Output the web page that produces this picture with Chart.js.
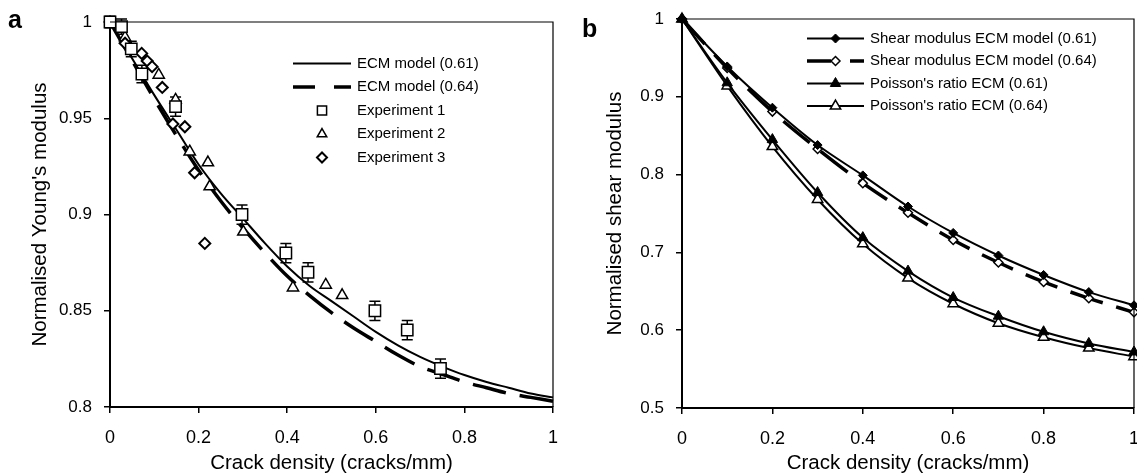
<!DOCTYPE html>
<html>
<head>
<meta charset="utf-8">
<script src="https://cdn.jsdelivr.net/npm/chart.js@4.4.1/dist/chart.umd.min.js"></script>
<style>
  body { margin: 0; background: #fff; width: 1137px; height: 476px; position: relative; overflow: hidden; }
  canvas { position: absolute; top: 0; }
  #chart-a { left: 0; }
  #chart-b { left: 570px; }
</style>
</head>
<body>
<canvas id="chart-a" width="570" height="476"></canvas>
<canvas id="chart-b" width="567" height="476"></canvas>
<script>
// ---- Données panneau a (module d'Young normalisé) ----
const modelDensity = [0, 0.05, 0.1, 0.15, 0.2, 0.25, 0.3, 0.35, 0.4, 0.45, 0.5,
                      0.55, 0.6, 0.65, 0.7, 0.75, 0.8, 0.85, 0.9, 0.95, 1];
const ecmModel061 = [1, 0.981, 0.962, 0.944, 0.926, 0.911, 0.898, 0.885, 0.873, 0.863, 0.855,
                     0.847, 0.839, 0.832, 0.826, 0.821, 0.8166, 0.813, 0.81, 0.807, 0.805];
const ecmModel064 = [1, 0.980, 0.960, 0.941, 0.923, 0.907, 0.893, 0.880, 0.868, 0.858, 0.849,
                     0.841, 0.834, 0.827, 0.821, 0.817, 0.813, 0.810, 0.807, 0.805, 0.803];

const exp1Density = [0, 0.026, 0.048, 0.072, 0.148, 0.298, 0.397, 0.447, 0.598, 0.671, 0.746];
const exp1Modulus = [1.0, 0.9976, 0.986, 0.973, 0.956, 0.900, 0.880, 0.870, 0.850, 0.840, 0.820];
const exp1Error   = [0.003, 0.004, 0.004, 0.0045, 0.005, 0.005, 0.005, 0.005, 0.005, 0.005, 0.005];

const exp2Density = [0.034, 0.11, 0.148, 0.18, 0.221, 0.225, 0.301, 0.413, 0.487, 0.524];
const exp2Modulus = [0.992, 0.9725, 0.9595, 0.9326, 0.927, 0.9145, 0.891, 0.862, 0.8634, 0.858];

const exp3Density = [0, 0.034, 0.0715, 0.084, 0.095, 0.118, 0.142, 0.169, 0.191, 0.214];
const exp3Modulus = [1.0, 0.989, 0.9837, 0.9797, 0.9768, 0.966, 0.947, 0.9456, 0.9217, 0.885];

// ---- Données panneau b (module de cisaillement) ----
const densityB   = [0, 0.1, 0.2, 0.3, 0.4, 0.5, 0.6, 0.7, 0.8, 0.9, 1];
const shear061   = [1.0, 0.939, 0.886, 0.838, 0.799, 0.759, 0.725, 0.696, 0.671, 0.649, 0.632];
const shear064   = [1.0, 0.937, 0.881, 0.833, 0.789, 0.751, 0.716, 0.687, 0.662, 0.641, 0.623];
const poisson061 = [1.0, 0.918, 0.845, 0.777, 0.719, 0.676, 0.642, 0.618, 0.598, 0.583, 0.572];
const poisson064 = [1.0, 0.914, 0.836, 0.768, 0.711, 0.667, 0.634, 0.609, 0.591, 0.577, 0.566];

// ---- Graduations ----
const xTicks = [0, 0.2, 0.4, 0.6, 0.8, 1];
const xTickLabels = ['0', '0.2', '0.4', '0.6', '0.8', '1'];
const yTicksA = [0.8, 0.85, 0.9, 0.95, 1];
const yTickLabelsA = ['0.8', '0.85', '0.9', '0.95', '1'];
const yTicksB = [0.5, 0.6, 0.7, 0.8, 0.9, 1];
const yTickLabelsB = ['0.5', '0.6', '0.7', '0.8', '0.9', '1'];

const FONT = '"Liberation Sans", Arial, sans-serif';
const font = size => ({ family: FONT, size: size });
const pts = (xs, ys) => xs.map((x, i) => ({ x: x, y: ys[i] }));

function drawMarker(ctx, style, x, y, r, fill, lw) {
    ctx.beginPath();
    if (style === 'rect') {
        const s = r * Math.SQRT1_2;
        ctx.rect(x - s, y - s, 2 * s, 2 * s);
    } else if (style === 'triangle') {
        const a = 2 * Math.PI / 3;
        ctx.moveTo(x, y - r);
        ctx.lineTo(x + r * Math.sin(a), y - r * Math.cos(a));
        ctx.lineTo(x - r * Math.sin(a), y - r * Math.cos(a));
        ctx.closePath();
    } else {
        ctx.moveTo(x - r, y);
        ctx.lineTo(x, y - r);
        ctx.lineTo(x + r, y);
        ctx.lineTo(x, y + r);
        ctx.closePath();
    }
    ctx.fillStyle = fill;
    ctx.fill();
    ctx.lineWidth = lw;
    ctx.strokeStyle = '#000';
    ctx.stroke();
}

// Légende dessinée dans la zone du graphique
const insideLegend = {
    id: 'insideLegend',
    afterDraw(chart, args, opts) {
        const ctx = chart.ctx;
        ctx.save();
        chart.data.datasets.forEach((ds, i) => {
            const y = opts.top + i * opts.rowGap;
            if (ds.showLine) {
                ctx.beginPath();
                ctx.setLineDash(ds.legendDash || []);
                ctx.lineWidth = ds.borderWidth;
                ctx.strokeStyle = '#000';
                ctx.moveTo(opts.x0, y);
                ctx.lineTo(opts.x1, y);
                ctx.stroke();
                ctx.setLineDash([]);
            }
            if (ds.legendRadius) {
                drawMarker(ctx, ds.pointStyle, (opts.x0 + opts.x1) / 2, y, ds.legendRadius,
                           ds.pointBackgroundColor, ds.pointBorderWidth);
            }
            ctx.fillStyle = '#000';
            ctx.font = '15px ' + FONT;
            ctx.textBaseline = 'middle';
            ctx.textAlign = 'left';
            ctx.fillText(ds.label, opts.textX, y);
        });
        ctx.restore();
    }
};

// Cadre haut/droite + lettre du panneau
const frame = {
    id: 'frame',
    afterDraw(chart, args, opts) {
        const { ctx, chartArea: a } = chart;
        ctx.save();
        ctx.strokeStyle = '#000';
        ctx.lineWidth = 1.2;
        ctx.beginPath();
        ctx.moveTo(a.left, a.top);
        ctx.lineTo(a.right, a.top);
        ctx.lineTo(a.right, a.bottom);
        ctx.stroke();
        ctx.fillStyle = '#000';
        ctx.font = 'bold 25px ' + FONT;
        ctx.textBaseline = 'alphabetic';
        ctx.fillText(opts.letter, opts.lx, opts.ly);
        ctx.restore();
    }
};

// Barres d'erreur de l'expérience 1
const errorBars = {
    id: 'errorBars',
    beforeDatasetsDraw(chart) {
        const ctx = chart.ctx, xs = chart.scales.x, ys = chart.scales.y;
        ctx.save();
        ctx.strokeStyle = '#000';
        ctx.lineWidth = 1.5;
        exp1Density.forEach((d, i) => {
            const px = xs.getPixelForValue(d);
            const top = ys.getPixelForValue(exp1Modulus[i] + exp1Error[i]);
            const bot = ys.getPixelForValue(exp1Modulus[i] - exp1Error[i]);
            ctx.beginPath();
            ctx.moveTo(px, top); ctx.lineTo(px, bot);
            ctx.moveTo(px - 5.5, top); ctx.lineTo(px + 5.5, top);
            ctx.moveTo(px - 5.5, bot); ctx.lineTo(px + 5.5, bot);
            ctx.stroke();
        });
        ctx.restore();
    }
};

function makeScales(yTicks, yLabels, yTitle, yWidth, yTitlePad, xHeight) {
    return {
        x: {
            type: 'linear', min: 0, max: 1,
            afterBuildTicks: s => { s.ticks = xTicks.map(v => ({ value: v })); },
            afterFit: s => { s.height = xHeight; s.paddingLeft = 0; s.paddingRight = 0; },
            ticks: { callback: (v, i) => xTickLabels[i], color: '#000', font: font(18), padding: 14, maxRotation: 0, autoSkip: false },
            grid: { drawOnChartArea: false, drawTicks: true, tickLength: 6, color: '#000', lineWidth: 1.5 },
            border: { color: '#000', width: 2 },
            title: { display: true, text: 'Crack density (cracks/mm)', color: '#000', font: font(20.5), padding: { top: 0, bottom: 0 } }
        },
        y: {
            type: 'linear', min: yTicks[0], max: yTicks[yTicks.length - 1],
            afterBuildTicks: s => { s.ticks = yTicks.map(v => ({ value: v })); },
            afterFit: s => { s.width = yWidth; s.paddingTop = 0; s.paddingBottom = 0; },
            ticks: { callback: (v, i) => yLabels[i], color: '#000', font: font(17), padding: 12, autoSkip: false },
            grid: { drawOnChartArea: false, drawTicks: true, tickLength: 6, color: '#000', lineWidth: 1.5 },
            border: { color: '#000', width: 2 },
            title: { display: true, text: yTitle, color: '#000', font: font(20.5), padding: { top: yTitlePad, bottom: 0 } }
        }
    };
}

const chartA = new Chart(document.getElementById('chart-a'), {
    type: 'scatter',
    data: {
        datasets: [
            { label: 'ECM model (0.61)', data: pts(modelDensity, ecmModel061), showLine: true, borderColor: '#000',
              borderWidth: 2, pointRadius: 0, cubicInterpolationMode: 'monotone', order: 2, clip: false },
            { label: 'ECM model (0.64)', data: pts(modelDensity, ecmModel064), showLine: true, borderColor: '#000',
              borderWidth: 3.5, borderDash: [34, 14], legendDash: [22, 19], pointRadius: 0,
              cubicInterpolationMode: 'monotone', order: 3, clip: false },
            { label: 'Experiment 1', data: pts(exp1Density, exp1Modulus), pointStyle: 'rect', pointRadius: 8,
              pointBackgroundColor: '#fff', pointBorderColor: '#000', pointBorderWidth: 1.5, legendRadius: 6.5, order: 0, clip: false },
            { label: 'Experiment 2', data: pts(exp2Density, exp2Modulus), pointStyle: 'triangle', pointRadius: 6.5,
              pointBackgroundColor: '#fff', pointBorderColor: '#000', pointBorderWidth: 1.5, legendRadius: 5.5, order: 1, clip: false },
            { label: 'Experiment 3', data: pts(exp3Density, exp3Modulus), pointStyle: 'rectRot', pointRadius: 5.5,
              pointBackgroundColor: '#fff', pointBorderColor: '#000', pointBorderWidth: 2, legendRadius: 5, order: 0, clip: false }
        ]
    },
    options: {
        responsive: false,
        animation: false,
        layout: { autoPadding: false, padding: { top: 22, right: 17, left: 0, bottom: 0 } },
        scales: makeScales(yTicksA, yTickLabelsA, "Normalised Young's modulus", 110, 28, 69),
        plugins: {
            legend: { display: false },
            tooltip: { enabled: false },
            insideLegend: { x0: 293, x1: 351, textX: 357, top: 63.5, rowGap: 23.5 },
            frame: { letter: 'a', lx: 8, ly: 28 }
        }
    },
    plugins: [errorBars, insideLegend, frame]
});

const chartB = new Chart(document.getElementById('chart-b'), {
    type: 'scatter',
    data: {
        datasets: [
            { label: 'Shear modulus ECM model (0.61)', data: pts(densityB, shear061), showLine: true, borderColor: '#000',
              borderWidth: 2, pointStyle: 'rectRot', pointRadius: 4.5, pointBackgroundColor: '#000', pointBorderColor: '#000',
              pointBorderWidth: 1, legendRadius: 4.5, cubicInterpolationMode: 'monotone', clip: false },
            { label: 'Shear modulus ECM model (0.64)', data: pts(densityB, shear064), showLine: true, borderColor: '#000',
              borderWidth: 3.5, borderDash: [34, 14], legendDash: [24, 19], pointStyle: 'rectRot', pointRadius: 4.5,
              pointBackgroundColor: '#fff', pointBorderColor: '#000', pointBorderWidth: 1.5, legendRadius: 4.5,
              cubicInterpolationMode: 'monotone', clip: false },
            { label: "Poisson's ratio ECM (0.61)", data: pts(densityB, poisson061), showLine: true, borderColor: '#000',
              borderWidth: 2, pointStyle: 'triangle', pointRadius: 6, pointBackgroundColor: '#000', pointBorderColor: '#000',
              pointBorderWidth: 1, legendRadius: 6, cubicInterpolationMode: 'monotone', clip: false },
            { label: "Poisson's ratio ECM (0.64)", data: pts(densityB, poisson064), showLine: true, borderColor: '#000',
              borderWidth: 2, pointStyle: 'triangle', pointRadius: 6, pointBackgroundColor: '#fff', pointBorderColor: '#000',
              pointBorderWidth: 1.5, legendRadius: 6, cubicInterpolationMode: 'monotone', clip: false }
        ]
    },
    options: {
        responsive: false,
        animation: false,
        layout: { autoPadding: false, padding: { top: 19, right: 3, left: 0, bottom: 0 } },
        scales: makeScales(yTicksB, yTickLabelsB, 'Normalised shear modulus', 112, 33, 68),
        plugins: {
            legend: { display: false },
            tooltip: { enabled: false },
            insideLegend: { x0: 237, x1: 294, textX: 300, top: 38.5, rowGap: 22.5 },
            frame: { letter: 'b', lx: 12, ly: 37 }
        }
    },
    plugins: [insideLegend, frame]
});
</script>
</body>
</html>
